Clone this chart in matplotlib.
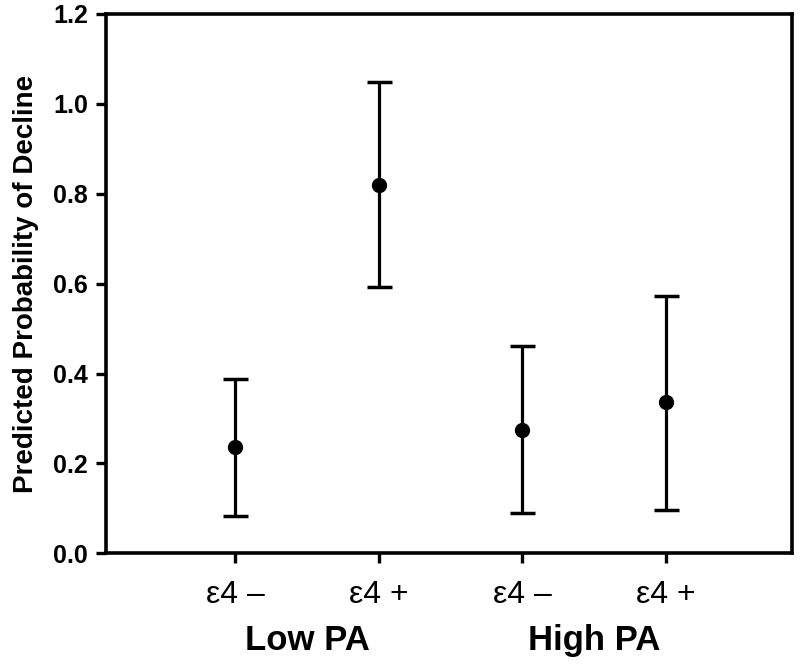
import matplotlib
matplotlib.use("Agg")
import matplotlib.pyplot as plt

plt.rcParams["font.family"] = ["Liberation Sans", "DejaVu Sans"]

# Data
tick_labels = ["ε4 –", "ε4 +", "ε4 –", "ε4 +"]
group_labels = ["Low PA", "High PA"]
prob = [0.236, 0.820, 0.274, 0.336]
upper = [0.387, 1.048, 0.461, 0.572]
lower = [0.082, 0.592, 0.089, 0.096]

xs = list(range(1, len(prob) + 1))
err = [[p - lo for p, lo in zip(prob, lower)],
       [hi - p for p, hi in zip(prob, upper)]]

fig = plt.figure(figsize=(8.0, 6.65), dpi=100)
ax = fig.add_axes([0.1325, 0.168, 0.858, 0.811])

ax.errorbar(xs, prob, yerr=err, fmt="o", color="black", ms=10,
            elinewidth=2.3, capsize=9, capthick=2.5)

ax.set_xlim(0.1, 4.88)
ax.set_ylim(0, 1.2)
ax.set_yticks([0.0, 0.2, 0.4, 0.6, 0.8, 1.0, 1.2])
ax.set_yticklabels([f"{v:.1f}" for v in ax.get_yticks()],
                   fontsize=18, fontweight="bold")
ax.set_xticks(xs)
ax.set_xticklabels(tick_labels, fontsize=23)
ax.tick_params(axis="both", direction="out", length=7, width=2.4)
ax.tick_params(axis="x", pad=12)
ax.tick_params(axis="y", pad=6)
for s in ax.spines.values():
    s.set_linewidth(2.6)

ax.set_ylabel("Predicted Probability of Decline", fontsize=20,
              fontweight="bold", labelpad=10)

# group labels under the pairs of ticks
for i, g in enumerate(group_labels):
    mid = (xs[2 * i] + xs[2 * i + 1]) / 2
    ax.text(mid, -0.161, g, transform=ax.get_xaxis_transform(),
            ha="center", va="center", fontsize=25, fontweight="bold")

fig.savefig("out.png", dpi=100, facecolor="white")
